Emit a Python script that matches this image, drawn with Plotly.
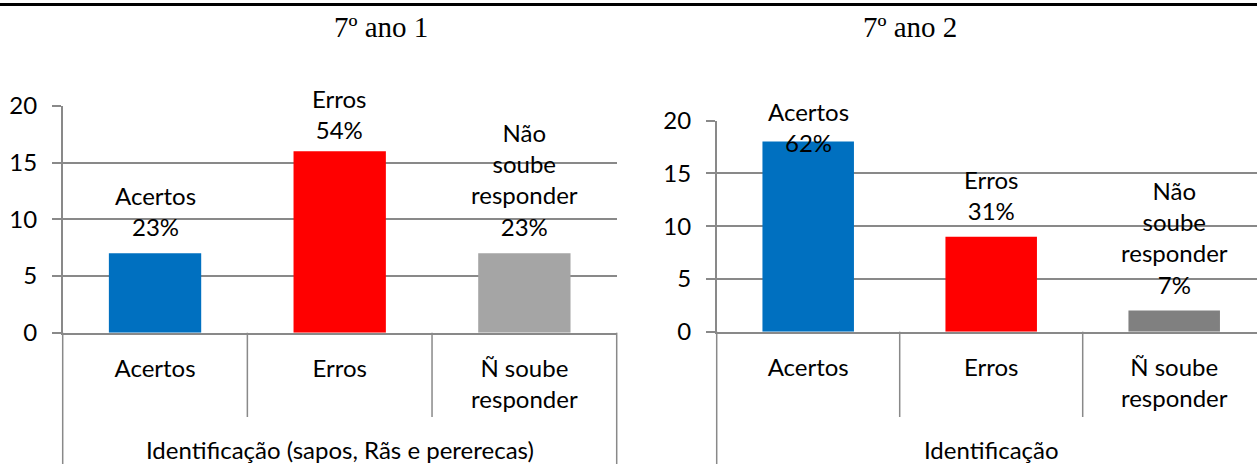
import plotly.graph_objects as go

# ---------------- data ----------------
categories = ["Acertos", "Erros", "Ñ soube responder"]
tick_labels = ["Acertos", "Erros", "Ñ soube<br>responder"]
label_names = ["Acertos", "Erros", "Não<br>soube<br>responder"]

values_ano1 = [7, 16, 7]
pcts_ano1 = ["23%", "54%", "23%"]
values_ano2 = [18, 9, 2]
pcts_ano2 = ["62%", "31%", "7%"]

title_ano1 = "7º ano 1"
title_ano2 = "7º ano 2"
group_ano1 = "Identificação (sapos, Rãs e pererecas)"
group_ano2 = "Identificação"

y_ticks = [0, 5, 10, 15, 20]

# ---------------- style ----------------
W, H = 1257, 464
FONT = "Lato"
FS = 24
LINE_H = FS * 1.3
GRID = "#898989"
colors_ano1 = ["#0070C0", "#FF0000", "#A5A5A5"]
colors_ano2 = ["#0070C0", "#FF0000", "#808080"]


def px2x(px):
    return px / W


def px2y(py):
    return 1 - py / H


charts = [
    dict(vals=values_ano1, pcts=pcts_ano1, colors=colors_ano1, title=title_ano1,
         group=group_ano1, xdom=[px2x(62.7), px2x(616.7)], ydom=[px2y(332.7), px2y(106)],
         xrange=[-0.5, 2.5], ceiling=84, title_x=332, right_edge=True),
    dict(vals=values_ano2, pcts=pcts_ano2, colors=colors_ano2, title=title_ano2,
         group=group_ano2, xdom=[px2x(716.7), 1.0], ydom=[px2y(331.7), px2y(120.5)],
         xrange=[-0.5, -0.5 + 540.3 / 183.0], ceiling=97, title_x=959, right_edge=False),
]

fig = go.Figure()
annotations = []
shapes = []
yr = [0, 20]

for i, c in enumerate(charts):
    n = "" if i == 0 else str(i + 1)
    xa, ya = "x" + n, "y" + n
    fig.add_trace(go.Bar(
        x=categories, y=c["vals"], marker_color=c["colors"], marker_line_width=0,
        width=0.5, xaxis=xa, yaxis=ya, showlegend=False, hoverinfo="x+y",
        cliponaxis=False,
    ))
    fig.layout["xaxis" + n] = dict(
        domain=c["xdom"], anchor=ya, type="category", range=c["xrange"],
        tickvals=categories, ticktext=tick_labels, ticks="", showgrid=False,
        showline=True, linecolor=GRID, linewidth=1.5, zeroline=False, automargin=False,
        tickfont=dict(family=FONT, size=FS, color="#000000"), ticklabelstandoff=14,
    )
    fig.layout["yaxis" + n] = dict(
        domain=c["ydom"], anchor=xa, range=yr, tickvals=y_ticks, ticks="outside",
        ticklen=9, tickcolor=GRID, tickwidth=1.5, showgrid=True, gridcolor=GRID,
        gridwidth=1.5, showline=True, linecolor=GRID, linewidth=1.5, zeroline=False,
        automargin=False,
        tickfont=dict(family=FONT, size=FS, color="#000000"), ticklabelstandoff=10,
    )
    # data labels above bars (kept inside chart area like the original)
    for cat, name, v, p in zip(categories, label_names, c["vals"], c["pcts"]):
        nlines = name.count("<br>") + 2
        bar_top = H * (1 - (c["ydom"][0] + (v - yr[0]) / (yr[1] - yr[0]) * (c["ydom"][1] - c["ydom"][0])))
        shift = 10
        top_px = bar_top - shift - nlines * LINE_H
        if top_px < c["ceiling"]:
            shift -= c["ceiling"] - top_px
        annotations.append(dict(
            x=cat, y=v, xref=xa, yref=ya, text=f"{name}<br>{p}", showarrow=False,
            yanchor="bottom", yshift=shift, font=dict(family=FONT, size=FS, color="#000000"),
        ))
    # group label under category labels
    annotations.append(dict(
        x=1, y=px2y(449), xref=xa, yref="paper", text=c["group"], showarrow=False,
        yanchor="middle", font=dict(family=FONT, size=FS, color="#000000"),
    ))
    # chart title
    annotations.append(dict(
        x=px2x(c["title_x"]), y=px2y(27), xref="paper", yref="paper", text=c["title"],
        showarrow=False, yanchor="middle",
        font=dict(family="Liberation Serif", size=29, color="#000000"),
    ))
    # category box lines below the axis
    ybot = c["ydom"][0]
    shapes.append(dict(type="line", xref=xa + " domain", yref="paper", x0=0, x1=0,
                       y0=0, y1=ybot, line=dict(color=GRID, width=1.5)))
    for d in [0.5, 1.5]:
        shapes.append(dict(type="line", xref=xa, yref="paper", x0=d, x1=d,
                           y0=px2y(417), y1=ybot, line=dict(color=GRID, width=1.5)))
    if c["right_edge"]:
        shapes.append(dict(type="line", xref=xa + " domain", yref="paper", x0=1, x1=1,
                           y0=0, y1=ybot, line=dict(color=GRID, width=1.5)))

# top black rule
shapes.append(dict(type="line", xref="paper", yref="paper", x0=0, x1=1,
                   y0=px2y(4.5), y1=px2y(4.5), line=dict(color="#000000", width=3)))

fig.update_layout(
    width=W, height=H, margin=dict(l=0, r=0, t=0, b=0, autoexpand=False),
    paper_bgcolor="white", plot_bgcolor="white", bargap=0.5,
    annotations=annotations, shapes=shapes,
)
fig.write_html("out.html", config={"displayModeBar": False},
               post_script="document.body.style.margin='0';")
